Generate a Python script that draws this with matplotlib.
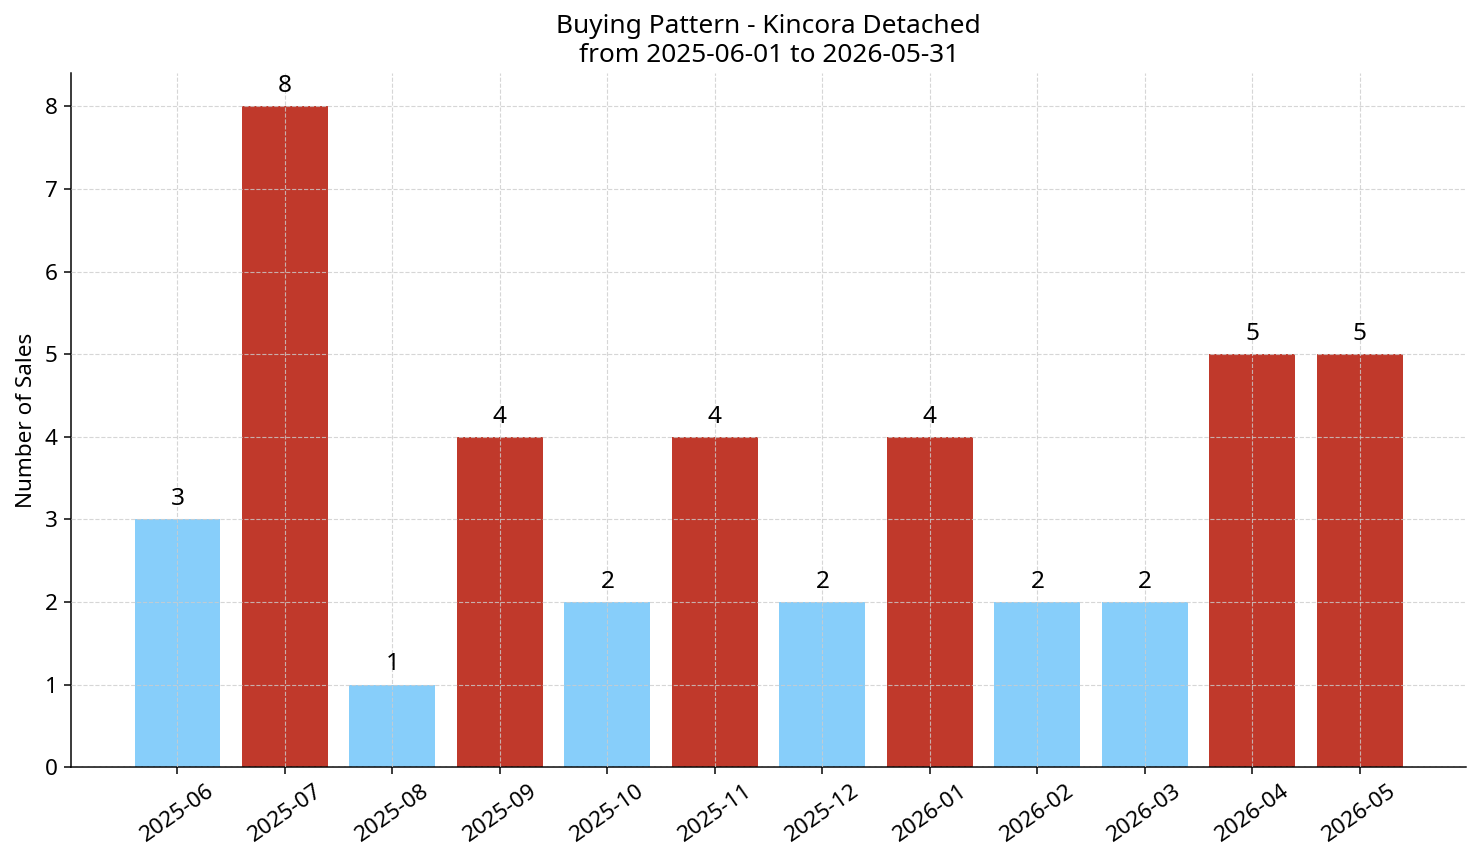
import matplotlib
matplotlib.use("Agg")
import matplotlib.pyplot as plt
import numpy as np

plt.rcParams['font.family'] = ['Noto Sans', 'DejaVu Sans']

months = ["2025-06", "2025-07", "2025-08", "2025-09", "2025-10", "2025-11",
          "2025-12", "2026-01", "2026-02", "2026-03", "2026-04", "2026-05"]
sales = [3, 8, 1, 4, 2, 4, 2, 4, 2, 2, 5, 5]

mean = np.mean(sales)
colors = ["#C0392B" if v > mean else "#87CEFA" for v in sales]

DPI = 135
fig, ax = plt.subplots(figsize=(1481 / DPI, 863 / DPI), dpi=DPI)
fig.subplots_adjust(left=0.048, right=0.99, top=0.915, bottom=0.111)
x = np.arange(len(months))
bars = ax.bar(x, sales, color=colors, width=0.8)
for xi, v in zip(x, sales):
    ax.text(xi, v + 0.1, str(v), ha='center', va='bottom', fontsize=13)

ax.set_xticks(x)
ax.set_xticklabels(months, rotation=35, ha='center', fontsize=12)
ax.tick_params(axis='y', labelsize=12)
ax.set_ylabel("Number of Sales", fontsize=12)
ax.set_title("Buying Pattern - Kincora Detached\nfrom 2025-06-01 to 2026-05-31", fontsize=14)
ax.grid(True, linestyle='--', color='#cccccc', alpha=0.8, linewidth=0.6)
ax.set_axisbelow(False)
ax.spines['top'].set_visible(False)
ax.spines['right'].set_visible(False)

fig.savefig("out.png", dpi=DPI)
